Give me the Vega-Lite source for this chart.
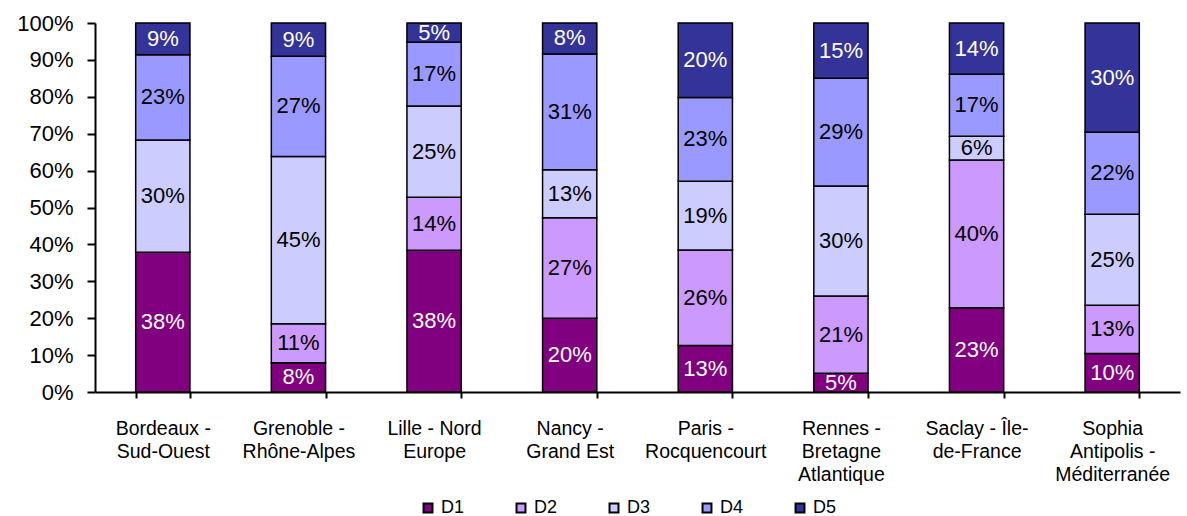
{
  "$schema": "https://vega.github.io/schema/vega-lite/v6.json",
  "width": 1085,
  "height": 369,
  "autosize": "none",
  "padding": {"left": 95, "top": 23, "right": 7, "bottom": 124},
  "background": "white",
  "config": {
    "view": {"stroke": null},
    "font": "Liberation Sans",
    "axisY": {
      "title": null,
      "values": [0, 0.1, 0.2, 0.3, 0.4, 0.5, 0.6, 0.7, 0.8, 0.9, 1],
      "format": ".0%",
      "labelFontSize": 22,
      "labelColor": "black",
      "labelPadding": 14,
      "labelOverlap": false,
      "grid": false,
      "domainColor": "black",
      "domainWidth": 2,
      "tickColor": "black",
      "tickWidth": 2,
      "tickSize": 8
    }
  },
  "data": {
    "values": [
      {"site": "Bordeaux -|Sud-Ouest", "series": "D1", "value": 0.379},
      {"site": "Bordeaux -|Sud-Ouest", "series": "D2", "value": 0.0},
      {"site": "Bordeaux -|Sud-Ouest", "series": "D3", "value": 0.304},
      {"site": "Bordeaux -|Sud-Ouest", "series": "D4", "value": 0.231},
      {"site": "Bordeaux -|Sud-Ouest", "series": "D5", "value": 0.086},
      {"site": "Grenoble -|Rhône-Alpes", "series": "D1", "value": 0.079},
      {"site": "Grenoble -|Rhône-Alpes", "series": "D2", "value": 0.106},
      {"site": "Grenoble -|Rhône-Alpes", "series": "D3", "value": 0.453},
      {"site": "Grenoble -|Rhône-Alpes", "series": "D4", "value": 0.272},
      {"site": "Grenoble -|Rhône-Alpes", "series": "D5", "value": 0.09},
      {"site": "Lille - Nord|Europe", "series": "D1", "value": 0.384},
      {"site": "Lille - Nord|Europe", "series": "D2", "value": 0.144},
      {"site": "Lille - Nord|Europe", "series": "D3", "value": 0.247},
      {"site": "Lille - Nord|Europe", "series": "D4", "value": 0.173},
      {"site": "Lille - Nord|Europe", "series": "D5", "value": 0.052},
      {"site": "Nancy -|Grand Est", "series": "D1", "value": 0.2},
      {"site": "Nancy -|Grand Est", "series": "D2", "value": 0.272},
      {"site": "Nancy -|Grand Est", "series": "D3", "value": 0.13},
      {"site": "Nancy -|Grand Est", "series": "D4", "value": 0.314},
      {"site": "Nancy -|Grand Est", "series": "D5", "value": 0.084},
      {"site": "Paris -|Rocquencourt", "series": "D1", "value": 0.126},
      {"site": "Paris -|Rocquencourt", "series": "D2", "value": 0.259},
      {"site": "Paris -|Rocquencourt", "series": "D3", "value": 0.186},
      {"site": "Paris -|Rocquencourt", "series": "D4", "value": 0.227},
      {"site": "Paris -|Rocquencourt", "series": "D5", "value": 0.202},
      {"site": "Rennes -|Bretagne|Atlantique", "series": "D1", "value": 0.051},
      {"site": "Rennes -|Bretagne|Atlantique", "series": "D2", "value": 0.209},
      {"site": "Rennes -|Bretagne|Atlantique", "series": "D3", "value": 0.298},
      {"site": "Rennes -|Bretagne|Atlantique", "series": "D4", "value": 0.292},
      {"site": "Rennes -|Bretagne|Atlantique", "series": "D5", "value": 0.15},
      {"site": "Saclay - Île-|de-France", "series": "D1", "value": 0.228},
      {"site": "Saclay - Île-|de-France", "series": "D2", "value": 0.401},
      {"site": "Saclay - Île-|de-France", "series": "D3", "value": 0.064},
      {"site": "Saclay - Île-|de-France", "series": "D4", "value": 0.168},
      {"site": "Saclay - Île-|de-France", "series": "D5", "value": 0.139},
      {"site": "Sophia|Antipolis -|Méditerranée", "series": "D1", "value": 0.104},
      {"site": "Sophia|Antipolis -|Méditerranée", "series": "D2", "value": 0.131},
      {"site": "Sophia|Antipolis -|Méditerranée", "series": "D3", "value": 0.247},
      {"site": "Sophia|Antipolis -|Méditerranée", "series": "D4", "value": 0.222},
      {"site": "Sophia|Antipolis -|Méditerranée", "series": "D5", "value": 0.296}
    ]
  },
  "transform": [
    {"stack": "value", "groupby": ["site"], "sort": [{"field": "series", "order": "ascending"}], "as": ["v0", "v1"], "offset": "normalize"},
    {"calculate": "(datum.v0 + datum.v1) / 2", "as": "mid"}
  ],
  "encoding": {
    "x": {
      "field": "site",
      "type": "nominal",
      "sort": null,
      "scale": {"paddingInner": 0.6, "paddingOuter": 0.3},
      "axis": {
        "title": null,
        "labelAngle": 0,
        "labelExpr": "datum.value ? split(datum.value, '|') : ''",
        "labelFontSize": 19.5,
        "labelLineHeight": 23,
        "labelColor": "black",
        "labelPadding": 21,
        "labelOverlap": false,
        "domainColor": "black",
        "domainWidth": 2,
        "tickColor": "black",
        "tickWidth": 2,
        "tickSize": 6,
        "tickBand": "extent"
      }
    }
  },
  "layer": [
    {
      "mark": {"type": "bar", "stroke": "black", "strokeWidth": 1.5},
      "encoding": {
        "y": {"field": "v0", "type": "quantitative", "scale": {"domain": [0, 1]}},
        "y2": {"field": "v1"},
        "color": {
          "field": "series",
          "type": "nominal",
          "scale": {"domain": ["D1", "D2", "D3", "D4", "D5"], "range": ["#800080", "#CC99FF", "#CCCCFF", "#9999FF", "#333399"]},
          "legend": {
            "title": null,
            "orient": "none",
            "legendX": 324,
            "legendY": 476,
            "direction": "horizontal",
            "symbolType": "square",
            "symbolSize": 80,
            "symbolStrokeColor": "black",
            "symbolStrokeWidth": 2,
            "labelFontSize": 18,
            "labelColor": "black",
            "labelOffset": 4,
            "columnPadding": 47
          }
        }
      }
    },
    {
      "transform": [{"filter": "datum.value > 0"}],
      "mark": {"type": "text", "fontSize": 22},
      "encoding": {
        "y": {"field": "mid", "type": "quantitative"},
        "text": {"field": "value", "type": "quantitative", "format": ".0%"},
        "color": {"condition": {"test": "datum.series === 'D1' || datum.series === 'D5'", "value": "white"}, "value": "black"}
      }
    }
  ]
}
